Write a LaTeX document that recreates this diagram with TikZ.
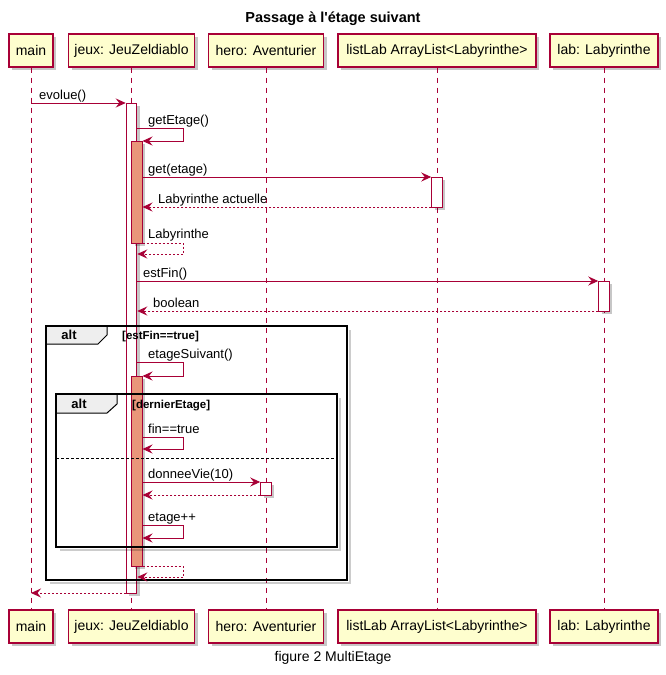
\documentclass[tikz,border=0pt]{standalone}
\usepackage{fontspec}
\setmainfont{Liberation Sans}
\usetikzlibrary{arrows.meta,shadows}
\definecolor{umlred}{HTML}{A80036}
\definecolor{umlfill}{HTML}{FEFECE}
\definecolor{actorange}{HTML}{E9967A}
\definecolor{tabgray}{HTML}{EEEEEE}
\tikzset{
  shd/.style={drop shadow={shadow xshift=3pt,shadow yshift=-3pt,fill=black,opacity=0.22}},
  part/.style={draw=umlred,fill=umlfill,line width=1.1pt,minimum height=33pt,inner sep=0pt,
    font=\fontsize{14}{16}\selectfont,shd},
  lifeline/.style={draw=umlred,line width=0.9pt,dash pattern=on 5pt off 5pt},
  act/.style={draw=umlred,fill=white,line width=1pt,minimum width=10.5pt,inner sep=0pt,shd},
  actor/.style={act,fill=actorange},
  msg/.style={draw=umlred,line width=1pt,-{Stealth[length=10pt,width=9pt,inset=3.5pt]}},
  ret/.style={msg,dash pattern=on 2pt off 2pt},
  lbl/.style={anchor=base west,inner sep=0pt,font=\fontsize{13}{15}\selectfont},
  frm/.style={draw=black,line width=1.6pt},
  frmshd/.style={draw=black,opacity=0.2,line width=2.5pt},
  tab/.style={draw=black,line width=1pt,fill=tabgray},
  tablbl/.style={font=\bfseries\fontsize{13}{15}\selectfont,inner sep=0pt},
  guard/.style={anchor=base west,inner sep=0pt,font=\bfseries\fontsize{11.5}{13}\selectfont},
}
\begin{document}
\begin{tikzpicture}[x=1pt,y=-1pt]
\useasboundingbox (0,0) rectangle (666,675);
\fill[white] (0,0) rectangle (666,675);

% title
\node[font=\bfseries\fontsize{14.5}{17}\selectfont] (title) at (333,19) {Passage à l\textquotesingle étage suivant};

% participants top
\node[part,minimum width=44pt]  (mainT) at (31,50.5)  {main};
\node[part,minimum width=126pt] (jeuxT) at (131.5,50.5) {jeux: JeuZeldiablo};
\node[part,minimum width=115pt] (heroT) at (266,50.5) {hero: Aventurier};
\node[part,minimum width=198pt] (listT) at (437,50.5) {listLab ArrayList<Labyrinthe>};
\node[part,minimum width=108pt] (labT)  at (604,50.5) {lab: Labyrinthe};
% participants bottom
\node[part,minimum width=44pt]  (mainB) at (31,626.5)  {main};
\node[part,minimum width=126pt] (jeuxB) at (131.5,626.5) {jeux: JeuZeldiablo};
\node[part,minimum width=115pt] (heroB) at (266,626.5) {hero: Aventurier};
\node[part,minimum width=198pt] (listB) at (437,626.5) {listLab ArrayList<Labyrinthe>};
\node[part,minimum width=108pt] (labB)  at (604,626.5) {lab: Labyrinthe};

% lifelines
\draw[lifeline] (mainT.south) -- (mainB.north);
\draw[lifeline] (jeuxT.south) -- (jeuxB.north);
\draw[lifeline] (heroT.south) -- (heroB.north);
\draw[lifeline] (listT.south) -- (listB.north);
\draw[lifeline] (labT.south) -- (labB.north);

% activations
\node[act,minimum height=490pt]   (a1) at (131.5,348) {};
\node[actor,minimum height=102pt] (a2) at (136.75,192) {};
\node[act,minimum height=30pt]    (a3) at (437,192) {};
\node[act,minimum height=30pt]    (a4) at (604,296) {};
\node[actor,minimum height=190pt] (a5) at (136.75,471) {};
\node[act,minimum height=13pt]    (a6) at (266,488.5) {};

% outer alt frame
\draw[frmshd] (350,330) -- (350,583) -- (50,583);
\draw[tab] (46,326) -- (107,326) -- (107,335) -- (98,344) -- (46,344) -- cycle;
\draw[frm] (46,326) rectangle (347,580);
\node[tablbl] (alt1) at (69,335) {alt};
\node[guard] (g1) at (122,339.5) {[estFin==true]};

% inner alt frame
\draw[frmshd] (340,398) -- (340,550) -- (60,550);
\draw[tab] (56,394) -- (117,394) -- (117,404) -- (107,413) -- (56,413) -- cycle;
\draw[frm] (56,394) rectangle (337,547);
\node[tablbl] (alt2) at (79,403.5) {alt};
\node[guard] (g2) at (132,408) {[dernierEtage]};
\draw[black,line width=0.9pt,dash pattern=on 3pt off 2pt] (56,458) -- (337,458);

% coordinates on lifelines
\coordinate (m1s) at (31,103);
\coordinate (m14e) at (31,593);

% messages
\draw[msg] (m1s) -- (a1.west |- m1s);
\node[lbl] at (39,99) {evolue()};

\draw[msg] (a1.east |- 0,128) -- (183,128) -- (183,141) -- (a2.east |- 0,141);
\node[lbl] at (148,124) {getEtage()};

\draw[msg] (a2.east |- 0,177) -- (a3.west |- 0,177);
\node[lbl] at (148,173) {get(etage)};

\draw[ret] (a3.west |- 0,207) -- (a2.east |- 0,207);
\node[lbl] at (158,203) {Labyrinthe actuelle};

\draw[ret] (a2.east |- 0,243) -- (183,243) -- (183,254) -- (a1.east |- 0,254);
\node[lbl] at (148,238) {Labyrinthe};

\draw[msg] (a1.east |- 0,281) -- (a4.west |- 0,281);
\node[lbl] at (143,277) {estFin()};

\draw[ret] (a4.west |- 0,311) -- (a1.east |- 0,311);
\node[lbl] at (153,307) {boolean};

\draw[msg] (a1.east |- 0,362) -- (183,362) -- (183,376) -- (a5.east |- 0,376);
\node[lbl] at (148,358) {etageSuivant()};

\draw[msg] (a5.east |- 0,437) -- (183,437) -- (183,449) -- (a5.east |- 0,449);
\node[lbl] at (148,433) {fin==true};

\draw[msg] (a5.east |- 0,482) -- (a6.west |- 0,482);
\node[lbl] at (148,478) {donneeVie(10)};

\draw[ret] (a6.west |- 0,495) -- (a5.east |- 0,495);

\draw[msg] (a5.east |- 0,525) -- (183,525) -- (183,538) -- (a5.east |- 0,538);
\node[lbl] at (148,521) {etage++};

\draw[ret] (a5.east |- 0,566) -- (183,566) -- (183,577) -- (a1.east |- 0,577);

\draw[ret] (a1.west |- m14e) -- (m14e);

% caption
\node[font=\fontsize{14}{16}\selectfont] (cap) at (333,658) {figure 2 MultiEtage};
\end{tikzpicture}
\end{document}
